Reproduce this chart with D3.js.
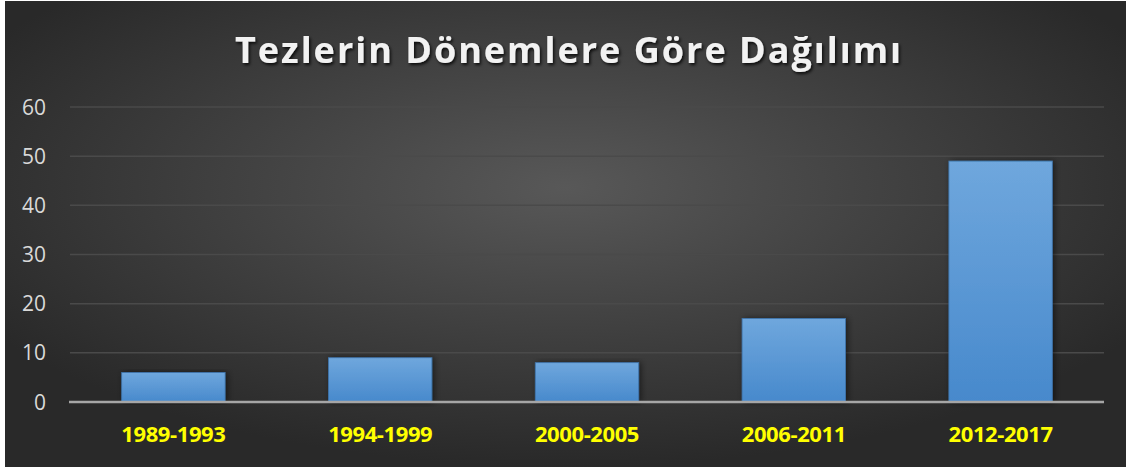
<!DOCTYPE html>
<html><head><meta charset="utf-8">
<script src="https://cdn.jsdelivr.net/npm/d3@7"></script>
<style>html,body{margin:0;padding:0;background:#fff;overflow:hidden}</style>
</head><body>
<script>
const categories = ["1989-1993","1994-1999","2000-2005","2006-2011","2012-2017"];
const values = [6, 9, 8, 17, 49];
const yTicks = [0,10,20,30,40,50,60];
const title = "Tezlerin Dönemlere Göre Dağılımı";

const W = 1126, H = 467;
const svg = d3.select("body").append("svg").attr("width", W).attr("height", H);
const defs = svg.append("defs");
const rg = defs.append("radialGradient").attr("id","bg").attr("cx","50%").attr("cy","40%").attr("r","60%")
  .attr("gradientUnits","objectBoundingBox");
rg.append("stop").attr("offset","0%").attr("stop-color","#585858");
rg.append("stop").attr("offset","100%").attr("stop-color","#292929");
const bg = defs.append("linearGradient").attr("id","bar").attr("x1",0).attr("x2",0).attr("y1",0).attr("y2",1);
bg.append("stop").attr("offset","0%").attr("stop-color","#6fa7dd");
bg.append("stop").attr("offset","100%").attr("stop-color","#4789cc");
const sh = defs.append("filter").attr("id","tsh").attr("x","-10%").attr("y","-30%").attr("width","120%").attr("height","160%");
sh.append("feDropShadow").attr("dx",1.5).attr("dy",2).attr("stdDeviation",1.5).attr("flood-color","#000").attr("flood-opacity",0.8);
const bsh = defs.append("filter").attr("id","bsh").attr("x","-20%").attr("y","-10%").attr("width","140%").attr("height","120%");
bsh.append("feDropShadow").attr("dx",2).attr("dy",0).attr("stdDeviation",3).attr("flood-color","#000").attr("flood-opacity",0.5);

svg.append("rect").attr("x",5).attr("y",1).attr("width",W-5).attr("height",H-1).attr("fill","url(#bg)");

const m = {left:70, right:22, top:107, bottom:65};
const x = d3.scaleBand().domain(categories).range([m.left, W-m.right]).paddingInner(0.5).paddingOuter(0.25);
const y = d3.scaleLinear().domain([0,60]).range([H-m.bottom, m.top]);

const g = svg.append("g");
g.selectAll("line.grid").data(yTicks.slice(1)).join("line")
  .attr("x1", m.left).attr("x2", W-m.right)
  .attr("y1", d=>y(d)).attr("y2", d=>y(d))
  .attr("stroke","#4a4a4a").attr("stroke-width",1.5);

g.selectAll("text.yl").data(yTicks).join("text")
  .attr("x", 46).attr("y", d=>y(d)).attr("dy","0.36em").attr("text-anchor","end")
  .attr("fill","#d9d9d9").attr("font-family","'Open Sans', 'Noto Sans', sans-serif").attr("font-size",21)
  .text(d=>d);

g.selectAll("rect.bar").data(values).join("rect")
  .attr("x",(d,i)=>x(categories[i])).attr("width",x.bandwidth())
  .attr("y",d=>y(d)).attr("height",d=>y(0)-y(d))
  .attr("fill","url(#bar)").attr("stroke","#3f76ae").attr("stroke-width",0.8)
  .attr("filter","url(#bsh)");

g.append("line").attr("x1",m.left-1).attr("x2",W-m.right).attr("y1",y(0)).attr("y2",y(0))
  .attr("stroke","#a6a6a6").attr("stroke-width",2.5);

g.selectAll("text.xl").data(categories).join("text")
  .attr("x",d=>x(d)+x.bandwidth()/2).attr("y",442).attr("text-anchor","middle")
  .attr("fill","#ffff00").attr("font-weight","bold")
  .attr("font-family","'Liberation Sans Narrow', 'Open Sans', sans-serif").attr("font-size",22)
  .attr("letter-spacing","-0.4")
  .text(d=>d);

svg.append("text").attr("x",569).attr("y",63).attr("text-anchor","middle")
  .attr("fill","#f2f2f2").attr("font-weight","bold").attr("font-family","'Open Sans', 'Noto Sans', sans-serif")
  .attr("font-size",36).attr("letter-spacing","2.0").attr("filter","url(#tsh)")
  .text(title);
</script>
</body></html>
